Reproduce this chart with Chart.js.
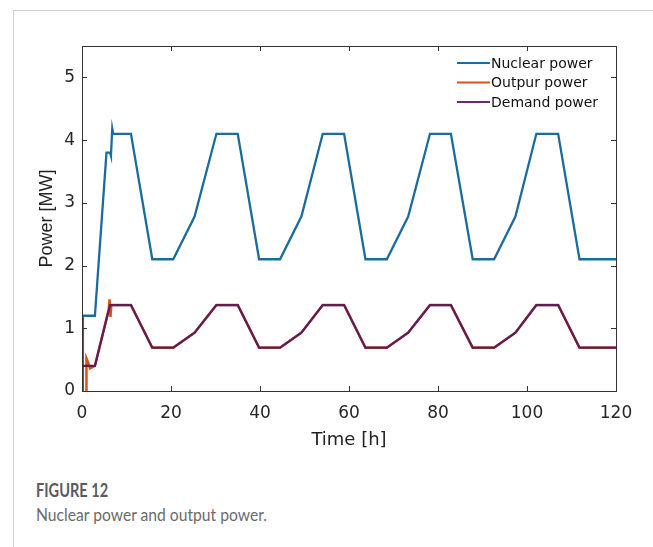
<!DOCTYPE html>
<html>
<head>
<meta charset="utf-8">
<script src="https://cdn.jsdelivr.net/npm/chart.js@4"></script>
<style>
  html, body { margin: 0; padding: 0; background: #fff; }
  body { width: 653px; height: 547px; position: relative; overflow: hidden; }
  #frame { position: absolute; left: 13px; top: 10px; width: 660px; height: 560px;
           border-left: 1px solid #cfcfcf; border-top: 1px solid #cfcfcf; }
  #wrap { position: absolute; left: 0; top: 0; width: 653px; height: 470px; }
  #fig, #cap { position: absolute; left: 36px; font-family: Lato, "Open Sans", sans-serif;
               font-size: 18px; transform: scaleX(0.87); transform-origin: left center; white-space: nowrap; }
  #fig { top: 479px; font-weight: bold; color: #5b5b5b; transform: scaleX(0.81); }
  #cap { top: 503px; color: #6a6a6a; }
</style>
</head>
<body>
<div id="frame"></div>
<div id="wrap"><canvas id="chart" width="653" height="470"></canvas></div>
<div id="fig">FIGURE 12</div>
<div id="cap">Nuclear power and output power.</div>
<script>
// values (time in hours, power in MW)
const nuclearTime  = [0.2, 0.2, 2.9, 5.5, 6.3, 6.5, 6.8, 7.0, 11, 15.8, 20.5, 25.3, 30.2, 35, 39.8, 44.5, 49.3, 54.1, 58.9, 63.7, 68.5, 73.3, 78.2, 82.9, 87.8, 92.6, 97.4, 102.1, 107, 111.8, 120];
const nuclearPower = [0, 1.2, 1.2, 3.8, 3.8, 3.75, 4.18, 4.1, 4.1, 2.1, 2.1, 2.78, 4.1, 4.1, 2.1, 2.1, 2.78, 4.1, 4.1, 2.1, 2.1, 2.78, 4.1, 4.1, 2.1, 2.1, 2.78, 4.1, 4.1, 2.1, 2.1];

const outputTime  = [0.9, 1.0, 1.4, 1.8, 2.3, 2.9, 6.0, 6.2, 6.4, 6.6, 11, 15.8, 20.5, 25.3, 30.2, 35, 39.8, 44.5, 49.3, 54.1, 58.9, 63.7, 68.5, 73.3, 78.2, 82.9, 87.8, 92.6, 97.4, 102.1, 107, 111.8, 120];
const outputPower = [0, 0.52, 0.45, 0.36, 0.38, 0.4, 1.3, 1.46, 1.18, 1.37, 1.37, 0.69, 0.69, 0.93, 1.37, 1.37, 0.69, 0.69, 0.93, 1.37, 1.37, 0.69, 0.69, 0.93, 1.37, 1.37, 0.69, 0.69, 0.93, 1.37, 1.37, 0.69, 0.69];

const demandTime  = [0, 2.9, 6.3, 11, 15.8, 20.5, 25.3, 30.2, 35, 39.8, 44.5, 49.3, 54.1, 58.9, 63.7, 68.5, 73.3, 78.2, 82.9, 87.8, 92.6, 97.4, 102.1, 107, 111.8, 120];
const demandPower = [0.4, 0.4, 1.37, 1.37, 0.69, 0.69, 0.93, 1.37, 1.37, 0.69, 0.69, 0.93, 1.37, 1.37, 0.69, 0.69, 0.93, 1.37, 1.37, 0.69, 0.69, 0.93, 1.37, 1.37, 0.69, 0.69];

const xTicks = [0, 20, 40, 60, 80, 100, 120];
const yTicks = [0, 1, 2, 3, 4, 5];

const pts = (xs, ys) => xs.map((x, i) => ({ x: x, y: ys[i] }));

// box around the plot with MATLAB style inward ticks, plus the legend
const boxPlugin = {
  id: 'box',
  afterDraw(chart) {
    const ctx = chart.ctx;
    const a = chart.chartArea;
    const xs = chart.scales.x, ys = chart.scales.y;
    ctx.save();
    ctx.strokeStyle = '#333';
    ctx.lineWidth = 1;
    ctx.strokeRect(Math.round(a.left) + 0.5, Math.round(a.top) + 0.5,
                   Math.round(a.right - a.left), Math.round(a.bottom - a.top));
    ctx.beginPath();
    xTicks.forEach(v => {
      const p = Math.round(xs.getPixelForValue(v)) + 0.5;
      ctx.moveTo(p, a.bottom); ctx.lineTo(p, a.bottom - 5);
      ctx.moveTo(p, a.top); ctx.lineTo(p, a.top + 5);
    });
    yTicks.forEach(v => {
      const p = Math.round(ys.getPixelForValue(v)) + 0.5;
      ctx.moveTo(a.left, p); ctx.lineTo(a.left + 5, p);
      ctx.moveTo(a.right, p); ctx.lineTo(a.right - 5, p);
    });
    ctx.stroke();

    // legend
    ctx.font = '14px "DejaVu Sans", sans-serif';
    ctx.textBaseline = 'middle';
    ctx.fillStyle = '#111';
    chart.data.datasets.forEach((ds, i) => {
      const y = 63 + i * 19.5;
      ctx.strokeStyle = ds.legendColor;
      ctx.lineWidth = 2;
      ctx.beginPath();
      ctx.moveTo(457, y); ctx.lineTo(490, y);
      ctx.stroke();
      ctx.fillText(ds.label, 491, y + 1);
    });
    ctx.restore();
  }
};

const tickFont = { family: '"DejaVu Sans", sans-serif', size: 17 };

new Chart(document.getElementById('chart'), {
  type: 'line',
  data: {
    datasets: [
      { label: 'Nuclear power', data: pts(nuclearTime, nuclearPower), borderColor: '#1b6c9e', legendColor: '#1b6c9e', borderWidth: 2.3, order: 3 },
      { label: 'Outpur power', data: pts(outputTime, outputPower), borderColor: '#d95319', legendColor: '#d95319', borderWidth: 2.5, order: 2 },
      { label: 'Demand power', data: pts(demandTime, demandPower), borderColor: '#5e1d57', legendColor: '#6a2b73', borderWidth: 2.3, order: 1 }
    ]
  },
  options: {
    responsive: false,
    animation: false,
    events: [],
    elements: { point: { radius: 0 }, line: { tension: 0 } },
    layout: { padding: { left: 0, right: 37, top: 46, bottom: 0 } },
    plugins: { legend: { display: false }, tooltip: { enabled: false } },
    scales: {
      x: {
        type: 'linear',
        min: 0,
        max: 120,
        afterFit: s => { s.height = 79; },
        afterBuildTicks: s => { s.ticks = xTicks.map(v => ({ value: v })); },
        grid: { display: false, drawTicks: false },
        border: { display: false },
        ticks: { font: tickFont, color: '#262626', padding: 12, maxRotation: 0, autoSkip: false },
        title: { display: true, text: 'Time [h]', font: { family: '"DejaVu Sans", sans-serif', size: 18 }, color: '#222', padding: { top: 0, bottom: 19 } }
      },
      y: {
        type: 'linear',
        min: 0,
        max: 5.5,
        afterFit: s => { s.width = 82; },
        afterBuildTicks: s => { s.ticks = yTicks.map(v => ({ value: v })); },
        grid: { display: false, drawTicks: false },
        border: { display: false },
        ticks: { font: tickFont, color: '#262626', padding: 7, autoSkip: false },
        title: { display: true, text: 'Power [MW]', font: { family: '"Liberation Sans", Arial, sans-serif', size: 18 }, color: '#222', padding: { top: 36, bottom: 0 } }
      }
    }
  },
  plugins: [boxPlugin]
});
</script>
</body>
</html>
